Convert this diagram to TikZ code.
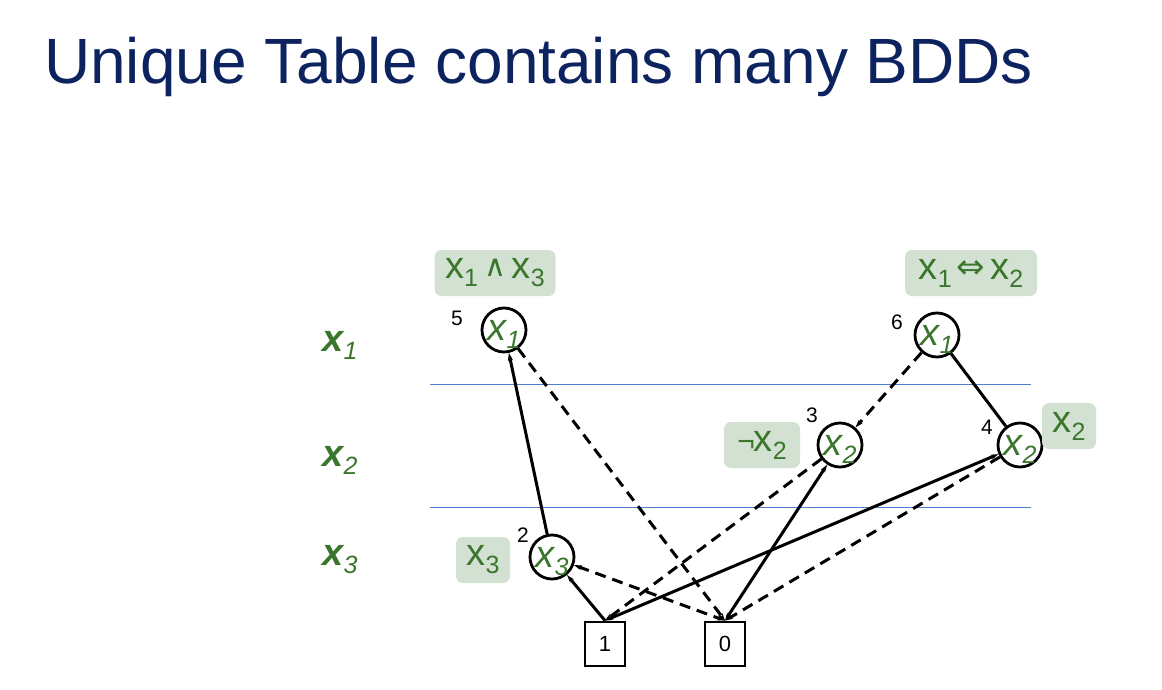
\documentclass[tikz,border=0pt]{standalone}
\usepackage{fontspec}
\setmainfont{Liberation Sans}
\newfontfamily\symfont{DejaVu Sans}
\usetikzlibrary{arrows.meta}

\definecolor{titleblue}{RGB}{12,35,96}
\definecolor{vargreen}{RGB}{58,118,44}
\definecolor{boxfill}{RGB}{210,225,209}
\definecolor{levelblue}{RGB}{80,128,205}

% font sizes for variables and their indices
\newcommand{\vsz}{\fontsize{38}{38}\selectfont}
\newcommand{\ssz}{\fontsize{25}{25}\selectfont}
% upright, italic and bold-italic variables x_i
\newcommand{\uvar}[1]{{\vsz x}\raisebox{-8pt}{\ssz #1}}
\newcommand{\ivar}[1]{{\vsz\itshape x}\raisebox{-8pt}{\ssz\itshape #1}}
\newcommand{\bvar}[1]{{\vsz\bfseries\itshape x}\raisebox{-8pt}{\ssz\itshape #1}}
% variable set inside a decision node, not widening it
\newcommand{\cvar}[1]{\smash{\makebox[0pt]{\raisebox{-10pt}{\ivar{#1}}}}}

\tikzset{
  bdd/.style={circle, draw, line width=2.8pt, minimum size=44pt, inner sep=0pt, text=vargreen},
  term/.style={rectangle, draw, line width=2.8pt, minimum width=40pt, minimum height=44pt,
               inner sep=0pt, font=\fontsize{22}{22}\selectfont},
  idx/.style={inner sep=0pt, font=\fontsize{21}{21}\selectfont},
  func/.style={rectangle, rounded corners=7pt, fill=boxfill, text=vargreen,
               minimum height=46pt, inner sep=0pt},
  level/.style={inner sep=0pt, text=vargreen},
  sep/.style={levelblue, line width=1pt},
  hi/.style={line width=3pt},
  lo/.style={line width=3pt, dash pattern=on 11pt off 7pt},
  tip/.tip={Stealth[length=8pt,width=5pt]}
}

\begin{document}
\begin{tikzpicture}[x=1pt,y=-1pt]
\useasboundingbox (0,0) rectangle (1162,690);

% title
\node[anchor=base west, inner sep=0pt, text=titleblue,
      font=\fontsize{64}{64}\selectfont] (title) at (44,84) {Unique Table contains many BDDs};

% variable levels
\node[level] (l1) at (340,345) {\bvar{1}};
\node[level] (l2) at (340,460) {\bvar{2}};
\node[level] (l3) at (340,560) {\bvar{3}};
\coordinate (s1a) at (430,384);
\coordinate (s1b) at (1031,384);
\coordinate (s2a) at (430,507);
\coordinate (s2b) at (1031,507);
\draw[sep] (s1a) -- (s1b);
\draw[sep] (s2a) -- (s2b);

% decision nodes
\node[bdd] (n5) at (504,330) {\cvar{1}};
\node[bdd] (n6) at (937,335) {\cvar{1}};
\node[bdd] (n3) at (840,445) {\cvar{2}};
\node[bdd] (n4) at (1020,445) {\cvar{2}};
\node[bdd] (n2) at (552,557) {\cvar{3}};

% node indices
\node[idx] (i5) at (457,318) {5};
\node[idx] (i6) at (897,322) {6};
\node[idx] (i3) at (812,415) {3};
\node[idx] (i4) at (987,427) {4};
\node[idx] (i2) at (523,535) {2};

% terminals
\node[term] (t1) at (605,644) {1};
\node[term] (t0) at (725,644) {0};

% functions represented
\node[func, minimum width=121pt] (f5) at (495,273)
  {\uvar{1}\hspace{6pt}{\symfont\fontsize{30}{30}\selectfont\raisebox{2pt}{∧}}\hspace{6pt}\uvar{3}};
\node[func, minimum width=132pt] (f6) at (971,273)
  {\uvar{1}\hspace{5pt}{\symfont\fontsize{34}{34}\selectfont\raisebox{1pt}{⇔}}\hspace{5pt}\uvar{2}};
\node[func, minimum width=76pt] (f3) at (762,445)
  {{\fontsize{30}{30}\selectfont ¬}\hspace{-1pt}\uvar{2}};
\node[func, minimum width=54pt] (f4) at (1069,426) {\uvar{2}};
\node[func, minimum width=54pt] (f2) at (483,560) {\uvar{3}};

% edges: solid = then, dashed = else
\draw[hi, tip-] (n5) -- (n2);
\draw[lo, -tip] (n5) -- (t0.north);
\draw[lo, -tip] (n6) -- (n3);
\draw[hi] (n6) -- (n4);
\draw[lo, -tip] (n3) -- (t1.north);
\draw[hi, tip-tip] (n3) -- (t0.north);
\draw[hi, tip-tip] (n4) -- (t1.north);
\draw[lo, -tip] (n4) -- (t0.north);
\draw[hi, tip-] (n2) -- (t1.north);
\draw[lo, tip-tip] (n2) -- (t0.north);
\end{tikzpicture}
\end{document}
